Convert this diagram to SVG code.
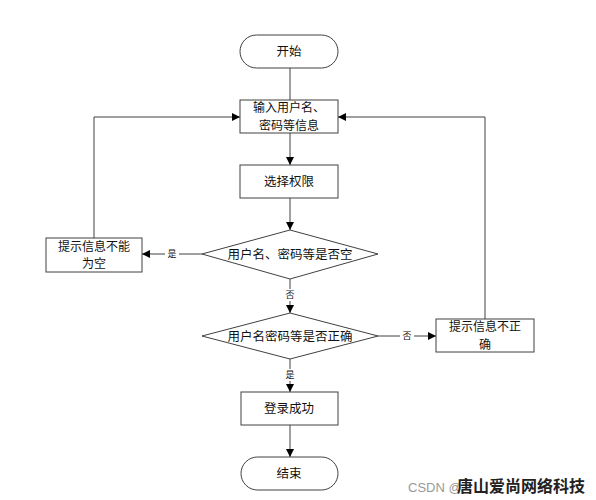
<svg xmlns="http://www.w3.org/2000/svg" width="596" height="500" viewBox="0 0 596 500">
<defs>
<marker id="arr" viewBox="0 0 10 10" refX="10" refY="5" markerWidth="8" markerHeight="8" markerUnits="userSpaceOnUse" orient="auto">
<path d="M0,0 L10,5 L0,10 z" fill="#000"/>
</marker>
</defs>
<style>
.shape{fill:#fff;stroke:#404040;stroke-width:1}
.t{font-family:"Noto Sans CJK SC","Liberation Sans",sans-serif;font-size:12.5px;fill:#111;text-anchor:middle}
.t2{font-family:"Noto Sans CJK SC","Liberation Sans",sans-serif;font-size:12px;fill:#111;text-anchor:middle}
.lbl{font-family:"Noto Sans CJK SC","Liberation Sans",sans-serif;font-size:9px;fill:#111;text-anchor:middle}
.c{fill:none;stroke:#404040;stroke-width:1}
</style>
<rect width="596" height="500" fill="#fff"/>
<g id="connectors">
<path class="c" d="M290,68 V100"/>
<path class="c" d="M290,133 V165" marker-end="url(#arr)"/>
<path class="c" d="M290,198 V230" marker-end="url(#arr)"/>
<path class="c" d="M202,254 H142" marker-end="url(#arr)"/>
<path class="c" d="M94,238 V117 H240" marker-end="url(#arr)"/>
<path class="c" d="M290,279 V313" marker-end="url(#arr)"/>
<path class="c" d="M378,336 H436" marker-end="url(#arr)"/>
<path class="c" d="M485,319 V117 H338" marker-end="url(#arr)"/>
<path class="c" d="M290,359 V392" marker-end="url(#arr)"/>
<path class="c" d="M290,425 V457" marker-end="url(#arr)"/>
<rect x="165" y="248" width="14" height="12" fill="#fff"/>
<text class="lbl" x="172" y="257">是</text>
<rect x="283" y="289" width="14" height="12" fill="#fff"/>
<text class="lbl" x="290" y="298">否</text>
<rect x="400" y="330" width="14" height="12" fill="#fff"/>
<text class="lbl" x="407" y="339">否</text>
<rect x="283" y="369" width="14" height="12" fill="#fff"/>
<text class="lbl" x="290" y="378">是</text>
</g>
<g id="start">
<rect class="shape" x="240" y="35" width="98" height="33" rx="16.5"/>
<text class="t" x="289" y="56">开始</text>
</g>
<g id="input">
<rect class="shape" x="240" y="100" width="98" height="33"/>
<text class="t2" x="289" y="112">输入用户名、</text>
<text class="t2" x="289" y="129.5">密码等信息</text>
</g>
<g id="select">
<rect class="shape" x="240" y="165" width="98" height="33"/>
<text class="t" x="289" y="186">选择权限</text>
</g>
<g id="check-empty">
<polygon class="shape" points="290,230 378,254 290,279 202,254"/>
<text class="t" x="290" y="259">用户名、密码等是否空</text>
</g>
<g id="msg-empty">
<rect class="shape" x="46" y="238" width="96" height="34"/>
<text class="t2" x="94" y="250.5">提示信息不能</text>
<text class="t2" x="94" y="268">为空</text>
</g>
<g id="check-correct">
<polygon class="shape" points="290,313 378,336 290,359 202,336"/>
<text class="t" x="290" y="341">用户名密码等是否正确</text>
</g>
<g id="msg-wrong">
<rect class="shape" x="436" y="319" width="98" height="33"/>
<text class="t2" x="485" y="331">提示信息不正</text>
<text class="t2" x="485" y="348.5">确</text>
</g>
<g id="success">
<rect class="shape" x="241" y="392" width="97" height="33"/>
<text class="t" x="289" y="413">登录成功</text>
</g>
<g id="end">
<rect class="shape" x="241" y="457" width="97" height="33" rx="16.5"/>
<text class="t" x="289" y="478">结束</text>
</g>
<g id="watermark">
<text x="408" y="492" font-family="'Liberation Sans','Noto Sans CJK SC',sans-serif" font-size="13" fill="#999">CSDN @</text>
<text x="457" y="492" font-family="'Noto Sans CJK SC',sans-serif" font-size="16" font-weight="bold" fill="#222">唐山爱尚网络科技</text>
</g>
</svg>
